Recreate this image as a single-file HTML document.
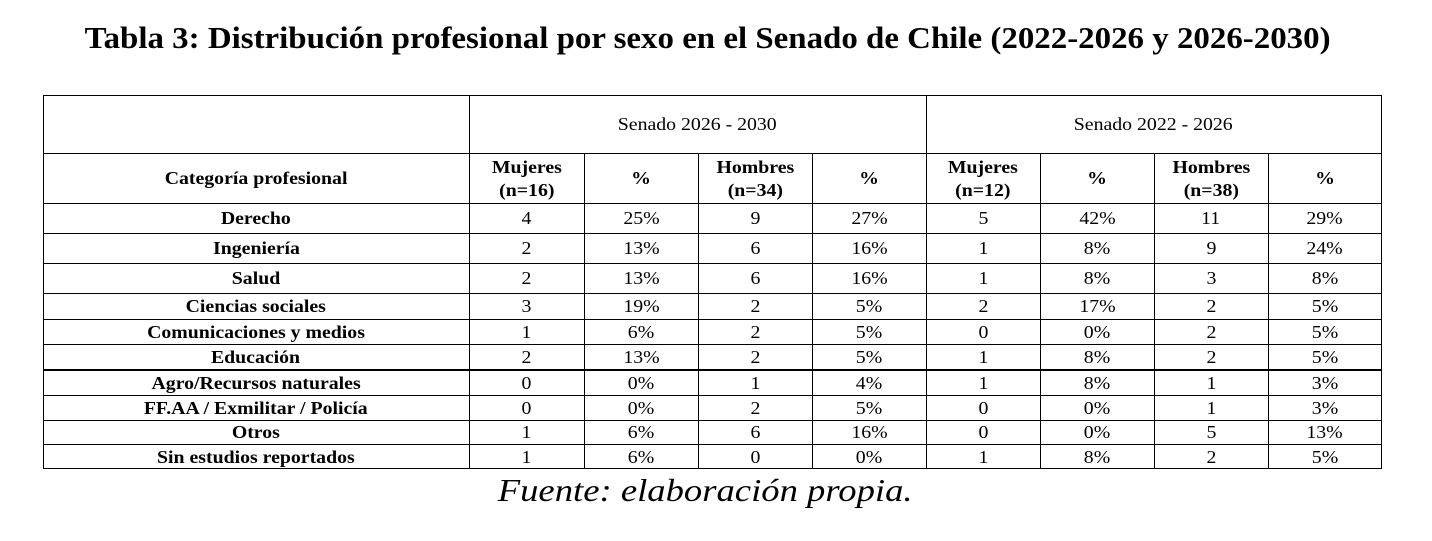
<!DOCTYPE html>
<html><head><meta charset="utf-8">
<style>
html,body{margin:0;padding:0;background:#fff;}
body{width:1432px;height:541px;position:relative;overflow:hidden;font-family:"Liberation Serif","Times New Roman",serif;color:#000;}
.t{position:absolute;left:0;width:1415px;top:21px;height:34px;line-height:34px;text-align:center;font-weight:bold;font-size:31px;white-space:nowrap;}
.t span{display:inline-block;transform:scaleX(1.062);transform-origin:center;}
.f{position:absolute;left:0;width:1411px;top:470px;height:40px;line-height:40px;text-align:center;font-style:italic;font-size:32px;white-space:nowrap;}
.f span{display:inline-block;transform:scaleX(1.145);transform-origin:center;}
.h{position:absolute;background:#000;height:1px;left:43px;width:1339px;}
.v{position:absolute;background:#000;width:1px;}
.c{position:absolute;display:flex;align-items:center;justify-content:center;font-size:18px;white-space:nowrap;text-align:center;}
.c span{display:inline-block;transform:scaleX(1.1);transform-origin:center;}
.b{font-weight:bold;}
.hd{line-height:23px;}
.k0{left:43px;width:426px;}
.k1{left:469px;width:115px;}
.k2{left:584px;width:114px;}
.k3{left:698px;width:114px;}
.k4{left:812px;width:114px;}
.k5{left:926px;width:114px;}
.k6{left:1040px;width:114px;}
.k7{left:1154px;width:114px;}
.k8{left:1268px;width:113px;}
.rh1{top:95px;height:58px;}
.rh2{top:153px;height:51px;}
.r0{top:203px;height:31px;}
.r1{top:233px;height:31px;}
.r2{top:263px;height:31px;}
.r3{top:293px;height:27px;}
.r4{top:319px;height:26px;}
.r5{top:344px;height:26px;}
.r6{top:370px;height:26px;}
.r7{top:395px;height:26px;}
.r8{top:420px;height:25px;}
.r9{top:444px;height:26px;}
</style></head><body>
<div class="t"><span>Tabla 3: Distribución profesional por sexo en el Senado de Chile (2022-2026 y 2026-2030)</span></div>

<div class="h" style="top:95px"></div>
<div class="h" style="top:153px"></div>
<div class="h" style="top:203px"></div>
<div class="h" style="top:233px"></div>
<div class="h" style="top:263px"></div>
<div class="h" style="top:293px"></div>
<div class="h" style="top:319px"></div>
<div class="h" style="top:344px"></div>
<div class="h" style="top:369px;height:2px"></div>
<div class="h" style="top:395px"></div>
<div class="h" style="top:420px"></div>
<div class="h" style="top:444px"></div>
<div class="h" style="top:468px"></div>

<div class="v" style="left:43px;top:95px;height:374px"></div>
<div class="v" style="left:469px;top:95px;height:374px"></div>
<div class="v" style="left:926px;top:95px;height:374px"></div>
<div class="v" style="left:1381px;top:95px;height:374px"></div>
<div class="v" style="left:584px;top:153px;height:316px"></div>
<div class="v" style="left:698px;top:153px;height:316px"></div>
<div class="v" style="left:812px;top:153px;height:316px"></div>
<div class="v" style="left:1040px;top:153px;height:316px"></div>
<div class="v" style="left:1154px;top:153px;height:316px"></div>
<div class="v" style="left:1268px;top:153px;height:316px"></div>

<div class="c rh1" style="left:469px;width:457px"><span>Senado 2026 - 2030</span></div>
<div class="c rh1" style="left:926px;width:455px"><span>Senado 2022 - 2026</span></div>

<div class="c b k0 rh2"><span>Categoría profesional</span></div>
<div class="c b hd k1 rh2"><span>Mujeres<br>(n=16)</span></div>
<div class="c b k2 rh2"><span>%</span></div>
<div class="c b hd k3 rh2"><span>Hombres<br>(n=34)</span></div>
<div class="c b k4 rh2"><span>%</span></div>
<div class="c b hd k5 rh2"><span>Mujeres<br>(n=12)</span></div>
<div class="c b k6 rh2"><span>%</span></div>
<div class="c b hd k7 rh2"><span>Hombres<br>(n=38)</span></div>
<div class="c b k8 rh2"><span>%</span></div>

<div class="c b k0 r0"><span>Derecho</span></div>
<div class="c k1 r0"><span>4</span></div><div class="c k2 r0"><span>25%</span></div><div class="c k3 r0"><span>9</span></div><div class="c k4 r0"><span>27%</span></div>
<div class="c k5 r0"><span>5</span></div><div class="c k6 r0"><span>42%</span></div><div class="c k7 r0"><span>11</span></div><div class="c k8 r0"><span>29%</span></div>

<div class="c b k0 r1"><span>Ingeniería</span></div>
<div class="c k1 r1"><span>2</span></div><div class="c k2 r1"><span>13%</span></div><div class="c k3 r1"><span>6</span></div><div class="c k4 r1"><span>16%</span></div>
<div class="c k5 r1"><span>1</span></div><div class="c k6 r1"><span>8%</span></div><div class="c k7 r1"><span>9</span></div><div class="c k8 r1"><span>24%</span></div>

<div class="c b k0 r2"><span>Salud</span></div>
<div class="c k1 r2"><span>2</span></div><div class="c k2 r2"><span>13%</span></div><div class="c k3 r2"><span>6</span></div><div class="c k4 r2"><span>16%</span></div>
<div class="c k5 r2"><span>1</span></div><div class="c k6 r2"><span>8%</span></div><div class="c k7 r2"><span>3</span></div><div class="c k8 r2"><span>8%</span></div>

<div class="c b k0 r3"><span>Ciencias sociales</span></div>
<div class="c k1 r3"><span>3</span></div><div class="c k2 r3"><span>19%</span></div><div class="c k3 r3"><span>2</span></div><div class="c k4 r3"><span>5%</span></div>
<div class="c k5 r3"><span>2</span></div><div class="c k6 r3"><span>17%</span></div><div class="c k7 r3"><span>2</span></div><div class="c k8 r3"><span>5%</span></div>

<div class="c b k0 r4"><span>Comunicaciones y medios</span></div>
<div class="c k1 r4"><span>1</span></div><div class="c k2 r4"><span>6%</span></div><div class="c k3 r4"><span>2</span></div><div class="c k4 r4"><span>5%</span></div>
<div class="c k5 r4"><span>0</span></div><div class="c k6 r4"><span>0%</span></div><div class="c k7 r4"><span>2</span></div><div class="c k8 r4"><span>5%</span></div>

<div class="c b k0 r5"><span>Educación</span></div>
<div class="c k1 r5"><span>2</span></div><div class="c k2 r5"><span>13%</span></div><div class="c k3 r5"><span>2</span></div><div class="c k4 r5"><span>5%</span></div>
<div class="c k5 r5"><span>1</span></div><div class="c k6 r5"><span>8%</span></div><div class="c k7 r5"><span>2</span></div><div class="c k8 r5"><span>5%</span></div>

<div class="c b k0 r6"><span>Agro/Recursos naturales</span></div>
<div class="c k1 r6"><span>0</span></div><div class="c k2 r6"><span>0%</span></div><div class="c k3 r6"><span>1</span></div><div class="c k4 r6"><span>4%</span></div>
<div class="c k5 r6"><span>1</span></div><div class="c k6 r6"><span>8%</span></div><div class="c k7 r6"><span>1</span></div><div class="c k8 r6"><span>3%</span></div>

<div class="c b k0 r7"><span>FF.AA / Exmilitar / Policía</span></div>
<div class="c k1 r7"><span>0</span></div><div class="c k2 r7"><span>0%</span></div><div class="c k3 r7"><span>2</span></div><div class="c k4 r7"><span>5%</span></div>
<div class="c k5 r7"><span>0</span></div><div class="c k6 r7"><span>0%</span></div><div class="c k7 r7"><span>1</span></div><div class="c k8 r7"><span>3%</span></div>

<div class="c b k0 r8"><span>Otros</span></div>
<div class="c k1 r8"><span>1</span></div><div class="c k2 r8"><span>6%</span></div><div class="c k3 r8"><span>6</span></div><div class="c k4 r8"><span>16%</span></div>
<div class="c k5 r8"><span>0</span></div><div class="c k6 r8"><span>0%</span></div><div class="c k7 r8"><span>5</span></div><div class="c k8 r8"><span>13%</span></div>

<div class="c b k0 r9"><span>Sin estudios reportados</span></div>
<div class="c k1 r9"><span>1</span></div><div class="c k2 r9"><span>6%</span></div><div class="c k3 r9"><span>0</span></div><div class="c k4 r9"><span>0%</span></div>
<div class="c k5 r9"><span>1</span></div><div class="c k6 r9"><span>8%</span></div><div class="c k7 r9"><span>2</span></div><div class="c k8 r9"><span>5%</span></div>

<div class="f"><span>Fuente: elaboración propia.</span></div>
</body></html>
